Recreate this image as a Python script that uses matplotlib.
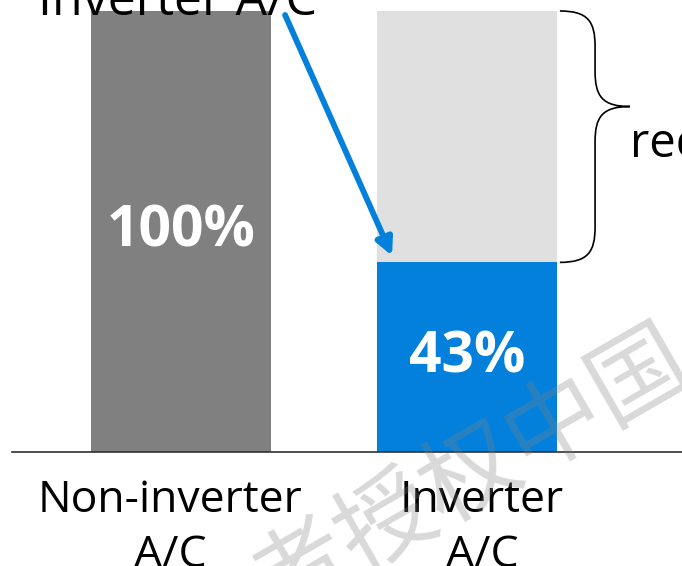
import matplotlib.pyplot as plt
import matplotlib.transforms as mtransforms
from matplotlib.path import Path
from matplotlib.patches import PathPatch

plt.rcParams['font.family'] = ['Open Sans', 'DejaVu Sans']

categories = ['Non-inverter\nA/C', 'Inverter\nA/C']
energy = [100, 43]          # energy use, % of the non-inverter unit
labels = ['100%', '43%']
total = 100

grey = '#808080'
blue = '#0280DC'
pale = '#E0E0E0'

fig = plt.figure(figsize=(6.82, 5.66), dpi=100)
ax = fig.add_axes([12 / 682, 114 / 566, 670 / 682, 441 / 566])

x = list(range(len(categories)))
width = 0.63

# saved part sits on top of the inverter bar
ax.bar(x[1], total - energy[1], width, bottom=energy[1], color=pale, zorder=1)
ax.bar(x, energy, width, color=[grey, blue], zorder=2)

for xi, val, lab in zip(x, energy, labels):
    ax.text(xi, val / 2, lab, ha='center', va='center', color='white',
            fontsize=41, fontweight='bold', zorder=3)

ax.set_xlim(-0.591, 1.752)
ax.set_ylim(0, total)
ax.set_xticks(x)
ax.set_xticklabels(categories, fontsize=32, linespacing=1.33)
ax.tick_params(axis='x', length=0, pad=19)
# nudge the category names a little sideways
for lab, dx in zip(ax.get_xticklabels(), [-0.11, 0.15]):
    lab.set_transform(lab.get_transform() +
                      mtransforms.ScaledTranslation(dx, 0, fig.dpi_scale_trans))
ax.set_yticks([])
for side in ['left', 'right', 'top']:
    ax.spines[side].set_visible(False)
ax.spines['bottom'].set_color('#303030')
ax.spines['bottom'].set_linewidth(1.2)

# caption and arrow down to the inverter bar
ax.text(-0.012, 99.1, 'Inverter A/C', ha='center', va='baseline', fontsize=36,
        clip_on=False, zorder=4)
ax.annotate('', xy=(x[1] - 0.262, energy[1] + 1.5), xytext=(0.364, 99.1),
            arrowprops=dict(arrowstyle='-|>,head_length=1.0,head_width=0.5',
                            color=blue, lw=4.2, shrinkA=0, shrinkB=0),
            annotation_clip=False, zorder=4)

# curly brace beside the saved part
bot, top = energy[1], total
tip = bot + 0.62 * (top - bot)
x0, xm, xt = 1.325, 1.448, 1.570
r = 8
verts = [
    (x0, top), (x0 + 0.8 * (xm - x0), top), (xm, top - 0.3 * r), (xm, top - r),
    (xm, tip + r),
    (xm, tip + 0.3 * r), (xm + 0.2 * (xt - xm), tip), (xt, tip),
    (xm + 0.2 * (xt - xm), tip), (xm, tip - 0.3 * r), (xm, tip - r),
    (xm, bot + r),
    (xm, bot + 0.3 * r), (x0 + 0.8 * (xm - x0), bot), (x0, bot),
]
codes = [Path.MOVETO, Path.CURVE4, Path.CURVE4, Path.CURVE4,
         Path.LINETO,
         Path.CURVE4, Path.CURVE4, Path.CURVE4,
         Path.CURVE4, Path.CURVE4, Path.CURVE4,
         Path.LINETO,
         Path.CURVE4, Path.CURVE4, Path.CURVE4]
ax.add_patch(PathPatch(Path(verts, codes), fill=False, lw=1.2,
                       edgecolor='black', clip_on=False, zorder=4))
ax.text(1.57, 66.9, 'reduction', ha='left', va='baseline', fontsize=34,
        clip_on=False)

# watermark
fig.text(430 / 682, 1 - 500 / 566, '作者授权中国', fontsize=70, rotation=30,
         ha='center', va='center', color=grey, alpha=0.3,
         family=['Noto Sans CJK SC', 'DejaVu Sans'], zorder=10)

fig.savefig('out.png', dpi=100)
